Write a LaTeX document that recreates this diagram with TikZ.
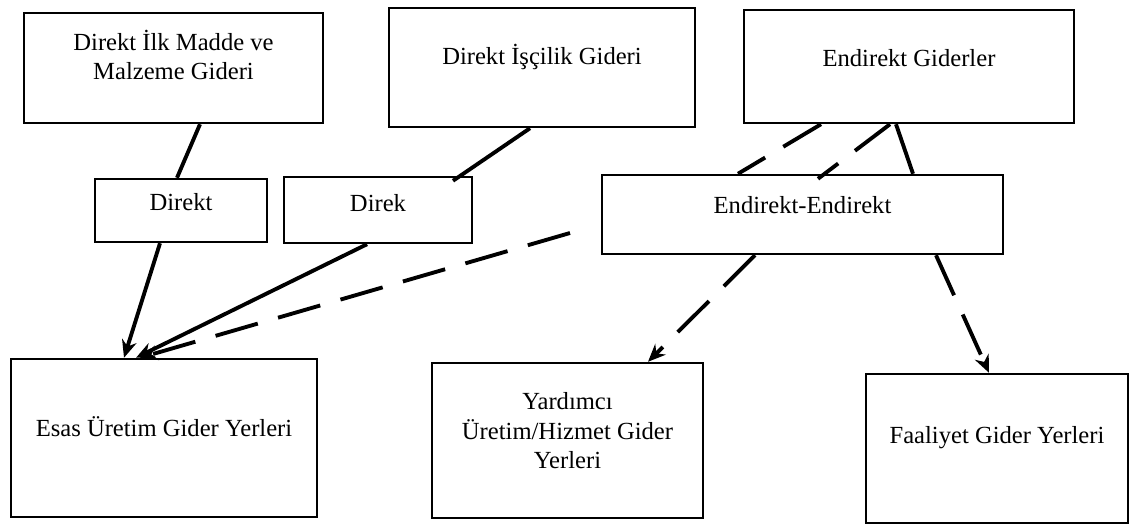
\documentclass[tikz,border=0pt]{standalone}
\usepackage{fontspec}
\setmainfont{Liberation Serif}
\usetikzlibrary{arrows.meta}

\begin{document}
\begin{tikzpicture}[
	box/.style={draw, line width=1.4pt, inner sep=0pt},
	lbl/.style={align=center, inner sep=0pt, font=\fontsize{14}{16.8}\selectfont},
	link/.style={line width=2.2pt},
	dlink/.style={line width=2.2pt, dash pattern=on 25pt off 12pt},
	arr/.style={-{Stealth[length=10pt,width=8.5pt]}}
]

\useasboundingbox (0,0) rectangle (22.66,10.5);

% Cost groups (top row)
\node[box, minimum width=5.98cm, minimum height=2.20cm] (ilkmadde) at (3.47,9.14) {};
\node[box, minimum width=6.12cm, minimum height=2.38cm] (iscilik) at (10.84,9.15) {};
\node[box, minimum width=6.60cm, minimum height=2.26cm] (endgider) at (18.18,9.17) {};

\node[lbl] (ilkmadde-t) at ([yshift=0.26cm]ilkmadde.center) {Direkt İlk Madde ve\\Malzeme Gideri};
\node[lbl] (iscilik-t) at ([yshift=0.21cm]iscilik.center) {Direkt İşçilik Gideri};
\node[lbl] (endgider-t) at ([yshift=0.17cm]endgider.center) {Endirekt Giderler};

% Distribution type (middle row)
\node[box, minimum width=3.44cm, minimum height=1.26cm] (direkt) at (3.62,6.29) {};
\node[box, minimum width=3.76cm, minimum height=1.32cm] (direk) at (7.56,6.30) {};
\node[box, minimum width=8.02cm, minimum height=1.58cm] (endend) at (16.05,6.21) {};

\node[lbl] (direkt-t) at ([yshift=0.17cm]direkt.center) {Direkt};
\node[lbl] (direk-t) at ([yshift=0.14cm]direk.center) {Direk};
\node[lbl] (endend-t) at ([yshift=0.19cm]endend.center) {Endirekt-Endirekt};

% Cost centres (bottom row)
\node[box, minimum width=6.12cm, minimum height=3.16cm] (esas) at (3.28,1.74) {};
\node[box, minimum width=5.42cm, minimum height=3.10cm] (yardimci) at (11.35,1.69) {};
\node[box, minimum width=5.24cm, minimum height=2.98cm] (faaliyet) at (19.94,1.53) {};

\node[lbl] (esas-t) at ([yshift=0.22cm]esas.center) {Esas Üretim Gider Yerleri};
\node[lbl] (yardimci-t) at ([yshift=0.19cm]yardimci.center) {Yardımcı\\Üretim/Hizmet Gider\\Yerleri};
\node[lbl] (faaliyet-t) at ([yshift=0.21cm]faaliyet.center) {Faaliyet Gider Yerleri};

% Direct flows
\draw[link] ([xshift=0.53cm]ilkmadde.south) -- ([xshift=-0.08cm]direkt.north);
\draw[link, arr] ([xshift=-0.42cm]direkt.south) -- ([xshift=-0.80cm]esas.north);
\draw[link] ([xshift=-0.24cm]iscilik.south) -- ([xshift=1.50cm,yshift=-0.10cm]direk.north);
\draw[link, arr] ([xshift=-0.22cm]direk.south) -- ([xshift=-0.56cm]esas.north);

% Indirect flows
\coordinate (eefree) at (11.40,5.84);
\draw[dlink, arr] (eefree) -- ([xshift=-0.48cm]esas.north);
\draw[dlink] ([xshift=-1.76cm]endgider.south) -- ([xshift=-1.29cm]endend.north);
\draw[dlink] ([xshift=-0.38cm]endgider.south) -- ([xshift=0.31cm,yshift=-0.10cm]endend.north);
\draw[link] ([xshift=-0.26cm]endgider.south) -- ([xshift=2.21cm]endend.north);
\draw[dlink, arr] ([xshift=-0.95cm]endend.south) -- ([xshift=1.61cm]yardimci.north);
\draw[dlink, arr] ([xshift=2.67cm]endend.south) -- ([xshift=-0.16cm]faaliyet.north);

\end{tikzpicture}
\end{document}
